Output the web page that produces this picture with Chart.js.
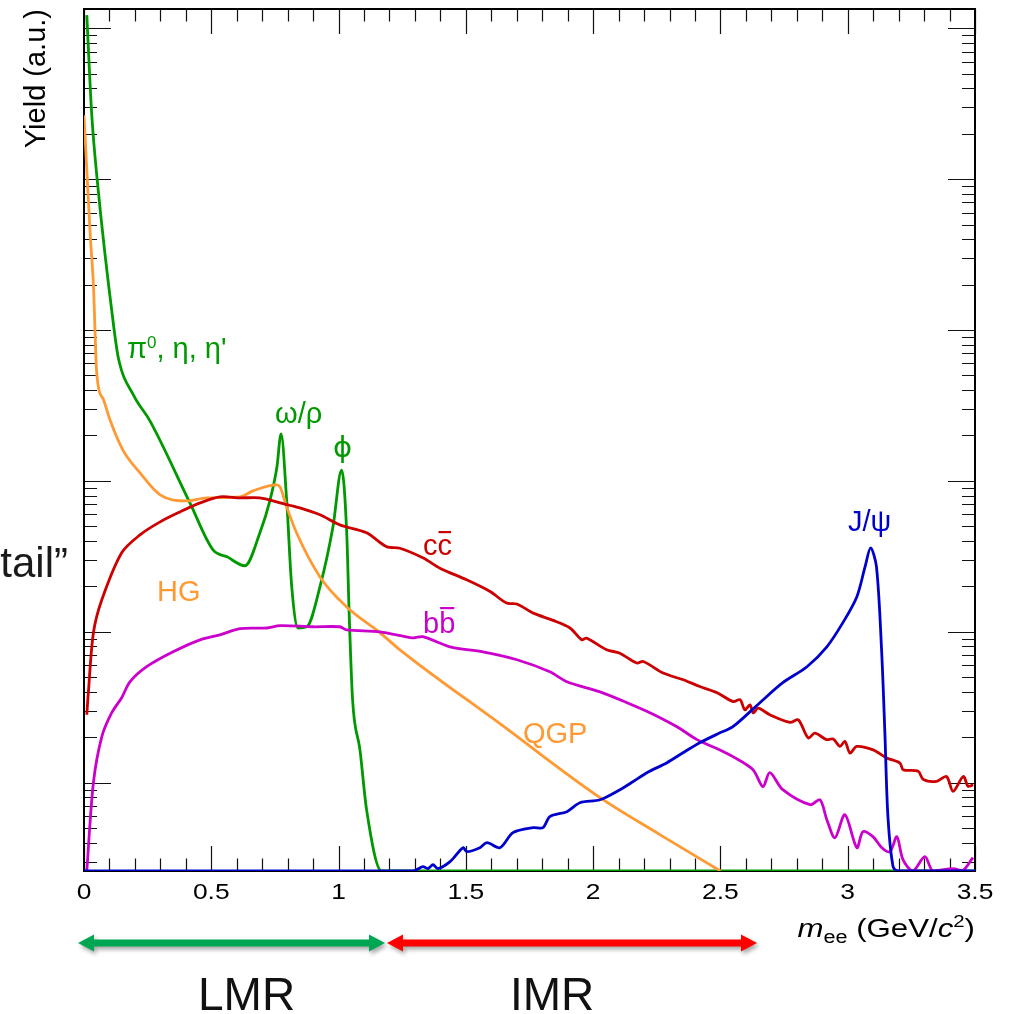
<!DOCTYPE html>
<html>
<head>
<meta charset="utf-8">
<script src="https://cdn.jsdelivr.net/npm/chart.js@4.4.0/dist/chart.umd.min.js"></script>
<style>
  html, body { margin: 0; padding: 0; background: #fff; }
  #wrap { width: 1015px; height: 1014px; position: relative; }
</style>
</head>
<body>
<div id="wrap"><canvas id="chart"></canvas></div>
<script>
// axis ranges (y is arbitrary units, log scale)
const xMin = 0, xMax = 3.5;
const yMin = 0.26, yMax = 1.34e5;
const xTickValues = [0, 0.5, 1, 1.5, 2, 2.5, 3, 3.5];
const xTickLabels = ['0', '0.5', '1', '1.5', '2', '2.5', '3', '3.5'];
const yDecades = [0.1, 1, 10, 100, 1000, 10000, 100000];

// pi0, eta, eta' + omega/rho + phi cocktail (green)
const cocktailMass = [0.011, 0.030, 0.052, 0.115, 0.135, 0.196, 0.259, 0.416, 0.507, 0.562, 0.632, 0.691, 0.731, 0.758, 0.774, 0.796, 0.816, 0.841, 0.875, 0.927, 0.978, 1.012, 1.032, 1.042, 1.055, 1.084, 1.110, 1.169, 3.5];
const cocktailYield = [1.22e5, 2.74e4, 9840, 1112, 653, 366, 250, 71.5, 34.9, 31.4, 27.4, 45.3, 74.8, 124, 205, 74.8, 19.9, 10.6, 10.8, 19.9, 49.6, 118, 45.3, 12.6, 3.55, 1.65, 0.663, 0, 0];

// thermal radiation: HG + QGP (orange)
const thermalMass = [0.0, 0.024, 0.037, 0.050, 0.077, 0.102, 0.153, 0.220, 0.299, 0.403, 0.482, 0.613, 0.664, 0.757, 0.770, 0.796, 0.835, 0.927, 1.032, 1.163, 1.241, 1.634, 2.027, 2.262, 2.5];
const thermalYield = [2.65e4, 4390, 1986, 519, 344, 254, 160, 113, 80.8, 73.7, 77.2, 78.4, 85.9, 94.1, 91.2, 67.3, 45.3, 23.1, 14.6, 9.85, 7.6, 2.46, 0.796, 0.453, 0.26];

// J/psi (blue)
const jpsiMass = [0, 1.292, 1.331, 1.351, 1.371, 1.390, 1.438, 1.489, 1.504, 1.555, 1.583, 1.634, 1.685, 1.764, 1.803, 1.830, 1.897, 1.948, 2.027, 2.105, 2.156, 2.211, 2.290, 2.353, 2.419, 2.498, 2.549, 2.655, 2.745, 2.840, 2.918, 2.981, 3.036, 3.068, 3.090, 3.113, 3.133, 3.146, 3.158, 3.178, 3.197, 3.5];
const jpsiYield = [0, 0, 0.278, 0.27, 0.286, 0.27, 0.300, 0.371, 0.349, 0.371, 0.401, 0.371, 0.467, 0.504, 0.504, 0.596, 0.643, 0.737, 0.771, 0.899, 1.015, 1.165, 1.357, 1.58, 1.84, 2.14, 2.35, 3.39, 4.60, 5.87, 7.95, 11.5, 17.1, 26.9, 36.0, 26.9, 7.60, 2.14, 0.596, 0.278, 0, 0];

// open charm (red)
const charmMass = [0.011, 0.017, 0.037, 0.070, 0.148, 0.220, 0.299, 0.377, 0.456, 0.534,
    0.613, 0.691, 0.770, 0.848, 0.927, 1.005, 1.110, 1.189, 1.241, 1.333,
    1.398, 1.503, 1.595, 1.660, 1.700, 1.765, 1.843, 1.909, 1.955, 1.974,
    2.053, 2.105, 2.171, 2.197, 2.275, 2.354, 2.419, 2.485, 2.550, 2.577,
    2.596, 2.616, 2.629, 2.648, 2.694, 2.773, 2.806, 2.845, 2.871, 2.917,
    2.943, 2.969, 2.989, 3.009, 3.035, 3.100, 3.153, 3.205, 3.218, 3.277,
    3.297, 3.349, 3.388, 3.414, 3.454, 3.473, 3.493];
const charmYield = [2.82, 3.94, 9.85, 16.3, 33.4, 43.9, 53.5, 62.3, 71.5, 78.4,
    77.2, 77.2, 71.5, 66.2, 59.6, 51.1, 45.3, 36.6, 35.8, 30.8,
    26.4, 22.1, 18.5, 15.5, 15.3, 13.3, 11.9, 10.6, 8.85, 9.08,
    7.60, 7.22, 6.21, 6.36, 5.33, 4.81, 4.34, 3.96, 3.45, 3.55,
    3.04, 3.28, 2.90, 3.12, 2.82, 2.51, 2.61, 1.98, 2.13, 1.93,
    1.95, 1.74, 1.88, 1.57, 1.74, 1.65, 1.46, 1.35, 1.22, 1.19,
    1.05, 1.02, 1.10, 0.875, 1.10, 0.946, 0.97];

// open beauty (magenta)
const beautyMass = [0.011, 0.037, 0.070, 0.109, 0.148, 0.181, 0.246, 0.350, 0.456, 0.534, 0.613, 0.718, 0.770, 0.899, 1.005, 1.032, 1.163, 1.292, 1.331, 1.438, 1.567, 1.701, 1.830, 1.897, 2.027, 2.133, 2.223, 2.329, 2.408, 2.498, 2.549, 2.628, 2.667, 2.694, 2.745, 2.852, 2.891, 2.918, 2.950, 2.989, 3.036, 3.060, 3.099, 3.134, 3.166, 3.193, 3.217, 3.256, 3.303, 3.335, 3.413, 3.45, 3.492];
const beautyYield = [0, 1.0, 2.02, 2.91, 3.66, 4.67, 5.87, 7.37, 8.85, 9.55, 10.5, 10.6, 11.0, 10.8, 10.8, 10.3, 10.0, 9.12, 9.28, 7.95, 7.37, 6.53, 5.43, 4.67, 4.00, 3.39, 2.91, 2.35, 1.93, 1.65, 1.49, 1.22, 0.941, 1.165, 0.899, 0.715, 0.771, 0.569, 0.432, 0.614, 0.371, 0.474, 0.439, 0.371, 0.349, 0.439, 0.309, 0, 0.324, 0, 0.27, 0, 0.319];

const FONT = '"Liberation Sans", Arial, Helvetica, sans-serif';

// zero entries sit on the frame bottom, like ROOT does
function toPoints(xs, ys) {
    return xs.map((x, i) => ({ x: x, y: ys[i] > 0 ? ys[i] : yMin }));
}

function line(label, xs, ys, color, smooth) {
    const ds = {
        label: label,
        data: toPoints(xs, ys),
        borderColor: color,
        borderWidth: 2.8,
        pointRadius: 0,
        fill: false
    };
    if (smooth === 'monotone') ds.cubicInterpolationMode = 'monotone';
    else ds.tension = smooth;
    return ds;
}

// frame + ROOT style inward ticks on all four sides
const frameTicks = {
    id: 'frameTicks',
    beforeDatasetsDraw(chart) {
        const { ctx, chartArea: a, scales: { x, y } } = chart;
        ctx.save();
        ctx.strokeStyle = '#111';
        ctx.lineWidth = 1.2;
        ctx.beginPath();
        for (let i = 0; i <= 35; i++) {
            const v = i / 10;
            const px = Math.round(x.getPixelForValue(v)) + 0.5;
            const len = i % 5 === 0 ? 25 : 12.5;
            ctx.moveTo(px, a.bottom); ctx.lineTo(px, a.bottom - len);
            ctx.moveTo(px, a.top); ctx.lineTo(px, a.top + len);
        }
        yDecades.forEach(d => {
            for (let m = 1; m <= 9; m++) {
                const v = d * m;
                if (v < yMin || v > yMax) continue;
                const py = Math.round(y.getPixelForValue(v)) + 0.5;
                const len = m === 1 ? 27 : 13;
                ctx.moveTo(a.left, py); ctx.lineTo(a.left + len, py);
                ctx.moveTo(a.right, py); ctx.lineTo(a.right - len, py);
            }
        });
        ctx.stroke();
        ctx.lineWidth = 2;
        ctx.strokeStyle = '#000';
        ctx.strokeRect(a.left, a.top, a.right - a.left, a.bottom - a.top);
        ctx.restore();
    }
};

// text pieces drawn one after another (sub/superscripts, italics)
function drawRuns(ctx, runs, x, y, align, stretch) {
    const sx = stretch || 1;
    let total = 0;
    runs.forEach(r => { ctx.font = r.font; r.w = ctx.measureText(r.text).width * sx; total += r.w; });
    let cx = align === 'right' ? x - total : (align === 'center' ? x - total / 2 : x);
    runs.forEach(r => {
        ctx.font = r.font;
        ctx.save();
        ctx.translate(cx, y + (r.dy || 0));
        ctx.scale(sx, 1);
        ctx.fillText(r.text, 0, 0);
        ctx.restore();
        cx += r.w;
    });
}

function arrow(ctx, x1, x2, y, color) {
    const head = 16, half = 8.5, thick = 3.5;
    ctx.save();
    ctx.fillStyle = color;
    ctx.shadowColor = 'rgba(0,0,0,0.35)';
    ctx.shadowBlur = 4;
    ctx.shadowOffsetX = 2;
    ctx.shadowOffsetY = 3;
    ctx.beginPath();
    ctx.moveTo(x1, y);
    ctx.lineTo(x1 + head, y - half);
    ctx.lineTo(x1 + head, y - thick);
    ctx.lineTo(x2 - head, y - thick);
    ctx.lineTo(x2 - head, y - half);
    ctx.lineTo(x2, y);
    ctx.lineTo(x2 - head, y + half);
    ctx.lineTo(x2 - head, y + thick);
    ctx.lineTo(x1 + head, y + thick);
    ctx.lineTo(x1 + head, y + half);
    ctx.closePath();
    ctx.fill();
    ctx.restore();
}

const annotations = {
    id: 'annotations',
    afterDraw(chart) {
        const { ctx, chartArea: a, scales: { x } } = chart;
        const f = (size, style) => (style ? style + ' ' : '') + size + 'px ' + FONT;
        ctx.save();
        ctx.textBaseline = 'alphabetic';
        ctx.textAlign = 'left';

        // x tick labels (the axis text of the original is a bit wider than tall)
        ctx.fillStyle = '#000';
        xTickValues.forEach((v, i) => {
            drawRuns(ctx, [{ text: xTickLabels[i], font: f(22) }], x.getPixelForValue(v), a.bottom + 28, 'center', 1.2);
        });

        // curve labels
        ctx.fillStyle = '#009900';
        drawRuns(ctx, [
            { text: '\u03c0', font: f(29) },
            { text: '0', font: f(17), dy: -10 },
            { text: ', \u03b7, \u03b7\'', font: f(29) }
        ], 127, 358);
        ctx.font = f(29);
        ctx.fillText('\u03c9/\u03c1', 275, 423);
        ctx.font = '29px "DejaVu Sans", ' + FONT;
        ctx.fillText('\u03d5', 333, 457);
        ctx.font = f(29);

        ctx.fillStyle = '#ff9933';
        ctx.fillText('HG', 157, 601);
        ctx.fillText('QGP', 523, 743);

        ctx.fillStyle = '#cc0000';
        ctx.fillText('cc', 423, 555);
        let cw = ctx.measureText('c').width;
        ctx.fillRect(423 + cw + 1, 531, cw - 2, 2.2);

        ctx.fillStyle = '#cc00cc';
        ctx.fillText('bb', 423, 633);
        let bw = ctx.measureText('b').width;
        ctx.fillRect(423 + bw + 1, 607, bw - 2, 2.2);

        ctx.fillStyle = '#0000cc';
        ctx.fillText('J/\u03c8', 848, 531);

        // x axis title
        ctx.fillStyle = '#000';
        drawRuns(ctx, [
            { text: 'm', font: f(26, 'italic') },
            { text: 'ee', font: f(18), dy: 6 },
            { text: ' (GeV/', font: f(26) },
            { text: 'c', font: f(26, 'italic') },
            { text: '2', font: f(17), dy: -10 },
            { text: ')', font: f(26) }
        ], 975, 937, 'right', 1.2);

        // cut-off text on the left edge
        ctx.fillStyle = '#1a1a1a';
        ctx.font = f(42);
        ctx.textAlign = 'right';
        ctx.fillText('tail\u201d', 68, 577);
        ctx.textAlign = 'left';

        // mass regions
        arrow(ctx, 78, 385, 943, '#00a651');
        arrow(ctx, 387, 757, 943, '#ff0000');
        ctx.fillStyle = '#111';
        ctx.font = f(46);
        ctx.fillText('LMR', 198, 1010);
        ctx.fillText('IMR', 510, 1010);
        ctx.restore();
    }
};

const chart = new Chart(document.getElementById('chart'), {
    type: 'line',
    data: {
        datasets: [
            line('J/\u03c8', jpsiMass, jpsiYield, '#0000cc', 0.3),
            line('cc', charmMass, charmYield, '#cc0000', 0.3),
            line('bb', beautyMass, beautyYield, '#cc00cc', 0.3),
            line('HG + QGP', thermalMass, thermalYield, '#ff9933', 'monotone'),
            line('cocktail', cocktailMass, cocktailYield, '#009900', 'monotone')
        ]
    },
    options: {
        responsive: true,
        maintainAspectRatio: false,
        animation: false,
        layout: { padding: { left: 0, right: 40, top: 9, bottom: 0 } },
        plugins: {
            legend: { display: false },
            tooltip: { enabled: false }
        },
        scales: {
            x: {
                type: 'linear',
                min: xMin,
                max: xMax,
                grid: { display: false, drawTicks: false },
                border: { display: false },
                afterFit: s => { s.height = 143; },
                ticks: { display: false }
            },
            y: {
                type: 'logarithmic',
                min: yMin,
                max: yMax,
                grid: { display: false, drawTicks: false },
                border: { display: false },
                afterFit: s => { s.width = 84; },
                ticks: { display: false },
                title: {
                    display: true,
                    text: 'Yield (a.u.)',
                    align: 'end',
                    color: '#000',
                    font: { family: FONT, size: 29 },
                    padding: { top: 20, bottom: 0 }
                }
            }
        }
    },
    plugins: [frameTicks, annotations]
});
</script>
</body>
</html>
